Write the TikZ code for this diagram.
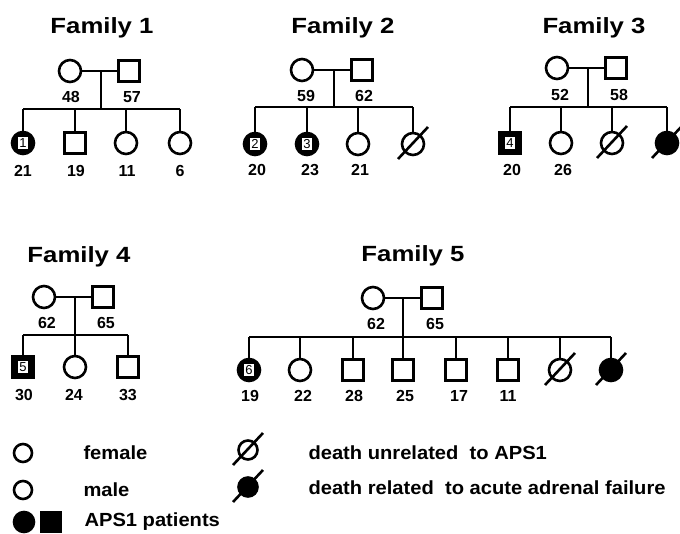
\documentclass[tikz,border=0pt]{standalone}
\usepackage{fontspec}
\setmainfont{Liberation Sans}
\newfontfamily\titlefont[FakeStretch=1.17]{Liberation Sans}
\newfontfamily\legfont[FakeStretch=1.06]{Liberation Sans}
\newcommand\deadslash[1]{\draw[ln,line width=2.6pt] ([shift={(-15,15)}]#1.center) -- ([shift={(15,-17)}]#1.center);}
\tikzset{
  fem/.style={circle,draw,line width=2.6pt,minimum size=22pt,inner sep=0pt},
  mal/.style={rectangle,draw,line width=2.6pt,minimum size=21pt,inner sep=0pt},
  patf/.style={fem,fill=black},
  patm/.style={mal,fill=black},
  num/.style={fill=white,draw,line width=0.8pt,inner sep=0.5pt,minimum width=11pt,minimum height=13pt,font=\fontsize{13}{13}\selectfont},
  age/.style={font=\fontsize{16}{16}\selectfont\bfseries},
  ttl/.style={font=\titlefont\fontsize{22}{22}\selectfont\bfseries},
  leg/.style={anchor=west,font=\legfont\fontsize{19}{19}\selectfont\bfseries},
  ln/.style={line width=2.4pt}
}
\begin{document}
\begin{tikzpicture}[x=1pt,y=-1pt]
\useasboundingbox (0,0) rectangle (680,533);

% ---------- Family 1 ----------
\node[ttl] (t1) at (102,28) {Family 1};
\node[fem] (m1) at (70,71) {};
\node[mal] (f1) at (129,71) {};
\node[age] (am1) at (71,97) {48};
\node[age] (af1) at (132,97) {57};
\coordinate (d1) at (101,71);
\coordinate (s1) at (101,109);
\node[patf] (c11) at (23,143) {};
\node[num] (n1) at (c11) {1};
\node[mal] (c12) at (75,143) {};
\node[fem] (c13) at (126,143) {};
\node[fem] (c14) at (180,143) {};
\draw[ln] (m1) -- (f1);
\draw[ln] (d1) -- (s1);
\draw[ln] (c11 |- s1) -- (c14 |- s1);
\foreach \c in {c11,c12,c13,c14} \draw[ln] (\c |- s1) -- (\c);
\node[age] (a11) at (23,171) {21};
\node[age] (a12) at (76,171) {19};
\node[age] (a13) at (127,171) {11};
\node[age] (a14) at (180,171) {6};

% ---------- Family 2 ----------
\node[ttl] (t2) at (343,28) {Family 2};
\node[fem] (m2) at (302,70) {};
\node[mal] (f2) at (362,70) {};
\node[age] (am2) at (306,96) {59};
\node[age] (af2) at (364,96) {62};
\coordinate (d2) at (334,70);
\coordinate (s2) at (334,107);
\node[patf] (c21) at (255,144) {};
\node[num] (n2) at (c21) {2};
\node[patf] (c22) at (307,144) {};
\node[num] (n3) at (c22) {3};
\node[fem] (c23) at (358,144) {};
\node[fem] (c24) at (413,144) {};
\deadslash{c24}
\draw[ln] (m2) -- (f2);
\draw[ln] (d2) -- (s2);
\draw[ln] (c21 |- s2) -- (c24 |- s2);
\foreach \c in {c21,c22,c23,c24} \draw[ln] (\c |- s2) -- (\c);
\node[age] (a21) at (257,170) {20};
\node[age] (a22) at (310,170) {23};
\node[age] (a23) at (360,170) {21};

% ---------- Family 3 ----------
\node[ttl] (t3) at (594,28) {Family 3};
\node[fem] (m3) at (557,68) {};
\node[mal] (f3) at (616,68) {};
\node[age] (am3) at (560,95) {52};
\node[age] (af3) at (619,95) {58};
\coordinate (d3) at (588,68);
\coordinate (s3) at (588,107);
\node[patm] (c31) at (510,143) {};
\node[num] (n4) at (c31) {4};
\node[fem] (c32) at (561,143) {};
\node[fem] (c33) at (612,143) {};
\deadslash{c33}
\node[patf] (c34) at (667,143) {};
\deadslash{c34}
\draw[ln] (m3) -- (f3);
\draw[ln] (d3) -- (s3);
\draw[ln] (c31 |- s3) -- (c34 |- s3);
\foreach \c in {c31,c32,c33,c34} \draw[ln] (\c |- s3) -- (\c);
\node[age] (a31) at (512,170) {20};
\node[age] (a32) at (563,170) {26};

% ---------- Family 4 ----------
\node[ttl] (t4) at (79,257) {Family 4};
\node[fem] (m4) at (44,297) {};
\node[mal] (f4) at (103,297) {};
\node[age] (am4) at (47,323) {62};
\node[age] (af4) at (106,323) {65};
\coordinate (d4) at (75,297);
\coordinate (s4) at (75,335);
\node[patm] (c41) at (23,367) {};
\node[num] (n5) at (c41) {5};
\node[fem] (c42) at (75,367) {};
\node[mal] (c43) at (128,367) {};
\draw[ln] (m4) -- (f4);
\draw[ln] (d4) -- (c42);
\draw[ln] (c41 |- s4) -- (c43 |- s4);
\foreach \c in {c41,c43} \draw[ln] (\c |- s4) -- (\c);
\node[age] (a41) at (24,395) {30};
\node[age] (a42) at (74,395) {24};
\node[age] (a43) at (128,395) {33};

% ---------- Family 5 ----------
\node[ttl] (t5) at (413,256) {Family 5};
\node[fem] (m5) at (373,298) {};
\node[mal] (f5) at (432,298) {};
\node[age] (am5) at (376,324) {62};
\node[age] (af5) at (435,324) {65};
\coordinate (d5) at (403,298);
\coordinate (s5) at (403,337);
\node[patf] (c51) at (249,370) {};
\node[num] (n6) at (c51) {6};
\node[fem] (c52) at (300,370) {};
\node[mal] (c53) at (353,370) {};
\node[mal] (c54) at (403,370) {};
\node[mal] (c55) at (456,370) {};
\node[mal] (c56) at (508,370) {};
\node[fem] (c57) at (560,370) {};
\deadslash{c57}
\node[patf] (c58) at (611,370) {};
\deadslash{c58}
\draw[ln] (m5) -- (f5);
\draw[ln] (d5) -- (c54);
\draw[ln] (c51 |- s5) -- (c58 |- s5);
\foreach \c in {c51,c52,c53,c55,c56,c57,c58} \draw[ln] (\c |- s5) -- (\c);
\node[age] (a51) at (250,396) {19};
\node[age] (a52) at (303,396) {22};
\node[age] (a53) at (354,396) {28};
\node[age] (a54) at (405,396) {25};
\node[age] (a55) at (459,396) {17};
\node[age] (a56) at (508,396) {11};

% ---------- Legend ----------
\node[fem,minimum size=18pt] (lf) at (23,453) {};
\node[leg] (lft) at (80,453) {female};
\node[fem,minimum size=18pt] (lm) at (23,490) {};
\node[leg] (lmt) at (80,490) {male};
\node[patf,minimum size=20pt] (lpc) at (24,522) {};
\node[patm,minimum size=19pt] (lps) at (51,522) {};
\node[leg] (lpt) at (81,522) {APS1 patients};
\node[fem,minimum size=19pt] (ld1) at (248,450) {};
\deadslash{ld1}
\node[leg] (ld1t) at (305,453) {death unrelated~ to APS1};
\node[patf,minimum size=19pt] (ld2) at (248,487) {};
\deadslash{ld2}
\node[leg] (ld2t) at (305,488) {death related~ to acute adrenal failure};
\end{tikzpicture}
\end{document}
